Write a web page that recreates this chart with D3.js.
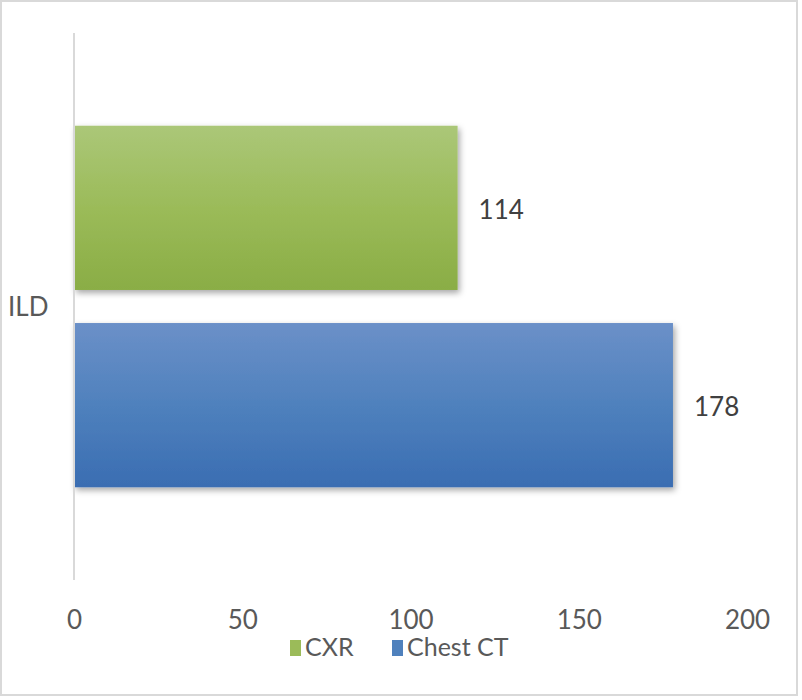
<!DOCTYPE html>
<html><head><meta charset="utf-8">
<script src="https://cdn.jsdelivr.net/npm/d3@7/dist/d3.min.js"></script>
<style>body{margin:0;background:#fff}svg{display:block}</style>
</head><body>
<svg id="c" width="802" height="700"></svg>
<script>
const categories = ["ILD"];
const seriesNames = ["CXR", "Chest CT"];
const cxrValues = [114];
const chestCtValues = [178];
const xTicks = [0, 50, 100, 150, 200];
const seriesColors = [["#abc778", "#9bbb59", "#8aad45"], ["#6b90c8", "#4f81bd", "#3a6db2"]];

const svg = d3.select("#c");
const font = "Lato, 'Open Sans', sans-serif";
const fs = 26;
svg.append("rect").attr("x", 1).attr("y", 1).attr("width", 796).attr("height", 694)
  .attr("fill", "#fff").attr("stroke", "#d9d9d9").attr("stroke-width", 2);

const defs = svg.append("defs");
seriesColors.forEach((c, i) => {
  const g = defs.append("linearGradient").attr("id", "g" + i).attr("x1", 0).attr("y1", 0).attr("x2", 0).attr("y2", 1);
  g.append("stop").attr("offset", "0%").attr("stop-color", c[0]);
  g.append("stop").attr("offset", "50%").attr("stop-color", c[1]);
  g.append("stop").attr("offset", "100%").attr("stop-color", c[2]);
});
const f = defs.append("filter").attr("id", "sh").attr("x", "-10%").attr("y", "-10%").attr("width", "130%").attr("height", "130%");
f.append("feDropShadow").attr("dx", 2).attr("dy", 3).attr("stdDeviation", 3).attr("flood-color", "#000").attr("flood-opacity", 0.35);

const x = d3.scaleLinear().domain([0, 200]).range([74, 747]);
const y = d3.scaleBand().domain(categories).range([33, 580]);
const ys = d3.scaleBand().domain(seriesNames).range([0, y.bandwidth()]).paddingInner(0.1675).paddingOuter(0.47);

const data = [];
categories.forEach((cat, ci) => {
  data.push({cat, s: "CXR", v: cxrValues[ci], i: 0});
  data.push({cat, s: "Chest CT", v: chestCtValues[ci], i: 1});
});

svg.selectAll("rect.bar").data(data).enter().append("rect").attr("class", "bar")
  .attr("x", x(0)).attr("y", d => y(d.cat) + ys(d.s))
  .attr("width", d => x(d.v) - x(0)).attr("height", ys.bandwidth())
  .attr("fill", d => "url(#g" + d.i + ")").attr("filter", "url(#sh)");

svg.selectAll("text.lbl").data(data).enter().append("text").attr("class", "lbl")
  .attr("x", d => x(d.v) + 21).attr("y", d => y(d.cat) + ys(d.s) + ys.bandwidth() / 2)
  .attr("dy", "0.42em").attr("font-family", font).attr("font-size", fs).attr("fill", "#404040")
  .text(d => d.v);

// y axis line
svg.append("line").attr("x1", x(0)).attr("x2", x(0)).attr("y1", 33).attr("y2", 580)
  .attr("stroke", "#d9d9d9").attr("stroke-width", 2);

// category label
svg.selectAll("text.cat").data(categories).enter().append("text").attr("class", "cat")
  .attr("x", 8).attr("y", d => y(d) + y.bandwidth() / 2).attr("dy", "0.35em")
  .attr("font-family", font).attr("font-size", fs).attr("fill", "#595959").text(d => d);

// x axis
const ax = svg.append("g").attr("transform", "translate(0,629)")
  .call(d3.axisBottom(x).tickValues(xTicks).tickSize(0).tickPadding(0));
ax.select(".domain").remove();
ax.selectAll("text").attr("font-family", font).attr("font-size", fs).attr("fill", "#595959").attr("dy", 0);

// legend
const leg = svg.append("g").attr("transform", "translate(290,0)");
const legX = [0, 102];
seriesNames.forEach((s, i) => {
  leg.append("rect").attr("x", legX[i]).attr("y", 640).attr("width", 11).attr("height", 16).attr("fill", seriesColors[i][1]);
  leg.append("text").attr("x", legX[i] + 15).attr("y", 656).attr("font-family", font).attr("font-size", 25)
    .attr("fill", "#595959").text(s);
});
</script>
</body></html>
